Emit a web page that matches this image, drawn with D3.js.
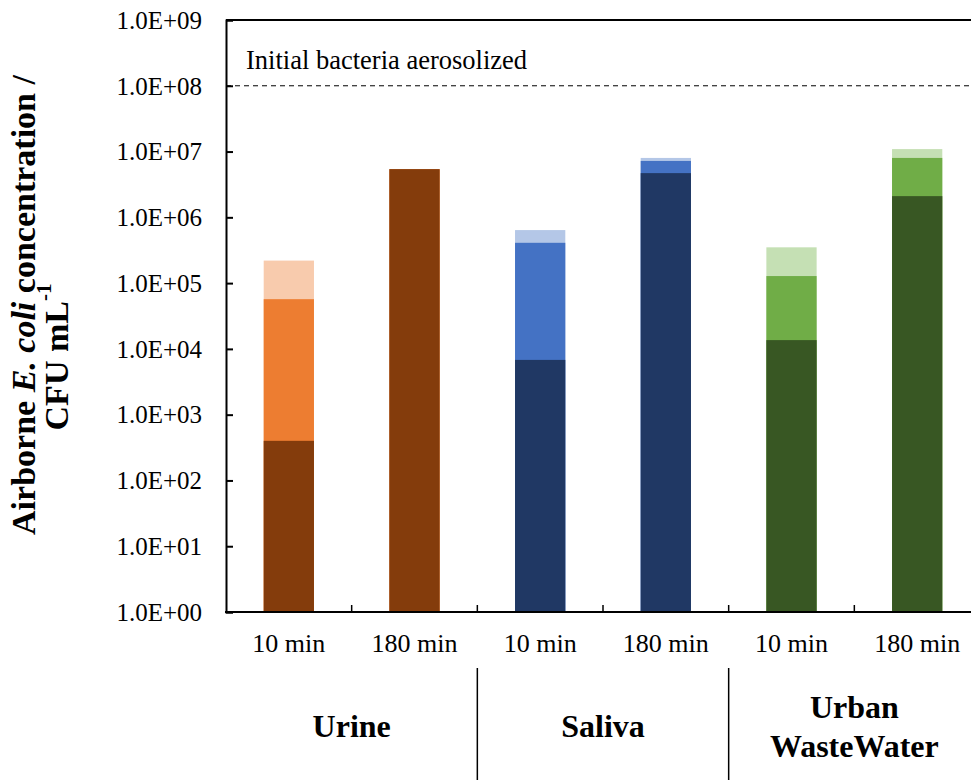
<!DOCTYPE html>
<html>
<head>
<meta charset="utf-8">
<script src="https://cdn.jsdelivr.net/npm/d3@7"></script>
<style>
  html, body { margin: 0; padding: 0; background: #fff; }
  svg { display: block; }
  text { font-family: "Liberation Serif", "Times New Roman", serif; fill: #000; }
</style>
</head>
<body>
<svg id="chart" width="971" height="780"></svg>
<script>
// Sampling times per matrix, in plotting order
const categories = ["10 min", "180 min", "10 min", "180 min", "10 min", "180 min"];
const groups = ["Urine", "Saliva", "Urban WasteWater"];
const groupOf = [0, 0, 1, 1, 2, 2];

// Airborne E. coli (CFU mL-1), three overlaid levels per bar
const valuesLight  = [2.2e5, 5.4e6, 6.4e5, 8.0e6, 3.5e5, 1.09e7];
const valuesMedium = [5.7e4, 5.4e6, 4.1e5, 7.2e6, 1.28e5, 8.0e6];
const valuesDark   = [400,   5.4e6, 6.8e3, 4.7e6, 1.36e4, 2.1e6];

// Initial aerosolized load (reference line)
const initialLoad = 1e8;

// Colours per matrix: [dark, medium, light]
const palette = [
  ["#843C0C", "#ED7D31", "#F8CBAD"],
  ["#203864", "#4472C4", "#B4C7E7"],
  ["#385723", "#70AD47", "#C5E0B4"]
];

const yTicks = [1e0, 1e1, 1e2, 1e3, 1e4, 1e5, 1e6, 1e7, 1e8, 1e9];

const svg = d3.select("#chart");
const plotLeft = 226, plotRight = 980, plotTop = 20, plotBottom = 612;

const x = d3.scaleBand()
  .domain(d3.range(categories.length))
  .range([plotLeft, plotRight])
  .paddingInner(0.6)
  .paddingOuter(0.3);

const y = d3.scaleLog().domain([1, 1e9]).range([plotBottom, plotTop]);

const fmt = v => {
  const e = Math.round(Math.log10(v));
  return "1.0E+" + String(e).padStart(2, "0");
};
const boundary = i => x(i) - x.step() * x.paddingInner() / 2;

// Bars: lightest level behind, darkest in front
const layers = [
  { vals: valuesLight, shade: 2 },
  { vals: valuesMedium, shade: 1 },
  { vals: valuesDark, shade: 0 }
];
layers.forEach(layer => {
  svg.append("g").selectAll("rect")
    .data(layer.vals)
    .join("rect")
    .attr("x", (d, i) => x(i))
    .attr("width", x.bandwidth())
    .attr("y", d => y(d))
    .attr("height", d => y(1) - y(d))
    .attr("fill", (d, i) => palette[groupOf[i]][layer.shade]);
});

// Reference line for the initial load
svg.append("line")
  .attr("x1", plotLeft).attr("x2", plotRight)
  .attr("y1", y(initialLoad)).attr("y2", y(initialLoad))
  .attr("stroke", "#000").attr("stroke-width", 1)
  .attr("stroke-dasharray", "5,4");
svg.append("text")
  .attr("x", 246).attr("y", y(initialLoad) - 17)
  .attr("font-size", 26.5)
  .text("Initial bacteria aerosolized");

// Y axis with inward ticks
const yAxis = d3.axisRight(y).tickValues(yTicks).tickSize(7).tickFormat("");
const gy = svg.append("g").attr("transform", `translate(${plotLeft},0)`).call(yAxis);
gy.select(".domain").attr("stroke-width", 2);
gy.selectAll(".tick line").attr("stroke-width", 2);

svg.append("g").selectAll("text")
  .data(yTicks)
  .join("text")
  .attr("x", 202)
  .attr("y", d => y(d))
  .attr("dy", "0.35em")
  .attr("text-anchor", "end")
  .attr("font-size", 25)
  .text(fmt);

// Top frame line
svg.append("line")
  .attr("x1", plotLeft).attr("x2", plotRight)
  .attr("y1", plotTop).attr("y2", plotTop)
  .attr("stroke", "#000").attr("stroke-width", 2);

// X axis: baseline with ticks between categories
svg.append("line")
  .attr("x1", plotLeft - 1).attr("x2", plotRight)
  .attr("y1", plotBottom).attr("y2", plotBottom)
  .attr("stroke", "#000").attr("stroke-width", 2);
svg.append("g").selectAll("line")
  .data(d3.range(1, categories.length).map(boundary))
  .join("line")
  .attr("x1", d => d).attr("x2", d => d)
  .attr("y1", plotBottom).attr("y2", plotBottom - 7)
  .attr("stroke", "#000").attr("stroke-width", 1.5);

// Category labels
svg.append("g").selectAll("text")
  .data(categories)
  .join("text")
  .attr("x", (d, i) => x(i) + x.bandwidth() / 2)
  .attr("y", 652)
  .attr("text-anchor", "middle")
  .attr("font-size", 26)
  .text(d => d);

// Group separators
[2, 4].forEach(i => {
  const bx = boundary(i);
  svg.append("line")
    .attr("x1", bx).attr("x2", bx)
    .attr("y1", 668).attr("y2", 780)
    .attr("stroke", "#000").attr("stroke-width", 1.5);
});

// Group labels
const groupCenter = g => boundary(g * 2) + x.step();
groups.forEach((g, gi) => {
  const cx = gi === 0 ? (plotLeft + boundary(2)) / 2 : groupCenter(gi);
  const t = svg.append("text")
    .attr("text-anchor", "middle")
    .attr("font-size", 32)
    .attr("font-weight", "bold");
  if (g === "Urban WasteWater") {
    t.append("tspan").attr("x", cx).attr("y", 718).text("Urban");
    t.append("tspan").attr("x", cx).attr("y", 757).text("WasteWater");
  } else {
    t.attr("x", cx).attr("y", 737).text(g);
  }
});

// Y axis title (two lines)
const title = svg.append("text")
  .attr("font-size", 34)
  .attr("font-weight", "bold")
  .attr("text-anchor", "middle")
  .attr("transform", "translate(35,305) rotate(-90)");
title.append("tspan").text("Airborne ");
title.append("tspan").attr("font-style", "italic").text("E. coli");
title.append("tspan").text(" concentration /");

const title2 = svg.append("text")
  .attr("font-size", 34)
  .attr("font-weight", "bold")
  .attr("text-anchor", "middle")
  .attr("transform", "translate(68,357) rotate(-90)");
title2.append("tspan").text("CFU mL");
title2.append("tspan").attr("font-size", 21).attr("dy", "-0.8em").text("-1");
</script>
</body>
</html>
